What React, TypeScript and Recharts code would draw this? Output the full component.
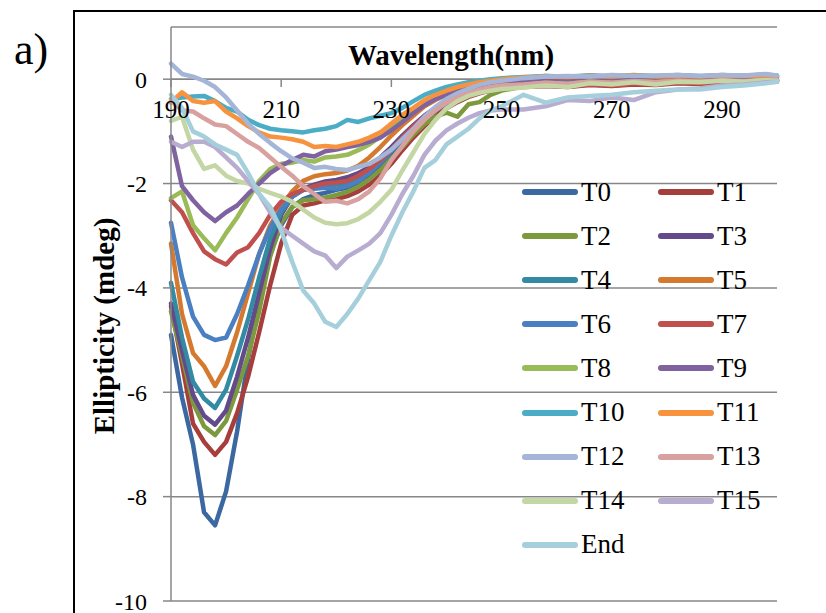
import { LineChart, Line, XAxis, YAxis, CartesianGrid, ReferenceLine, Legend, Customized } from "recharts";

const serif = "'Liberation Serif', 'Times New Roman', serif";
const axisGray = "#878787";

// wavelength (nm) — 2 nm steps through the band, coarser in the flat tail
const wavelength = [
  190, 192, 194, 196, 198, 200, 202, 204, 206, 208, 210, 212, 214, 216, 218, 220, 222, 224, 226, 228, 230,
  232, 234, 236, 238, 240, 242, 244, 246, 248, 250, 254, 258, 262, 266, 270, 274, 278, 282, 286, 290, 294, 298, 300,
];

// ellipticity (mdeg) per time point
const t0 = [-4.9, -6.1, -7.0, -8.3, -8.55, -7.9, -6.75, -5.35, -4.3, -3.35, -2.8, -2.45, -2.3, -2.22, -2.18, -2.12, -2.08, -1.98, -1.86, -1.7, -1.47, -1.22, -1.0, -0.79, -0.62, -0.48, -0.37, -0.28, -0.21, -0.16, -0.12, -0.1, -0.06, -0.08, -0.04, -0.06, -0.03, -0.05, -0.02, -0.04, -0.01, -0.03, 0.0, -0.02];
const t1 = [-4.35, -5.45, -6.6, -6.95, -7.2, -6.95, -6.4, -5.7, -4.85, -3.95, -3.15, -2.6, -2.42, -2.38, -2.32, -2.3, -2.24, -2.15, -2.02, -1.84, -1.62, -1.36, -1.12, -0.9, -0.72, -0.56, -0.44, -0.34, -0.27, -0.22, -0.18, -0.15, -0.13, -0.15, -0.11, -0.13, -0.1, -0.11, -0.08, -0.09, -0.06, -0.07, -0.05, -0.04];
const t2 = [-4.45, -5.3, -6.2, -6.65, -6.82, -6.55, -5.95, -5.3, -4.45, -3.4, -2.75, -2.45, -2.32, -2.3, -2.27, -2.22, -2.16, -2.06, -1.92, -1.74, -1.52, -1.3, -1.06, -0.86, -0.72, -0.64, -0.72, -0.48, -0.44, -0.3, -0.22, -0.14, -0.1, -0.12, -0.07, -0.09, -0.05, -0.07, -0.04, -0.06, -0.03, -0.04, -0.02, -0.03];
const t3 = [-4.3, -5.2, -6.05, -6.45, -6.62, -6.35, -5.7, -4.95, -4.1, -3.25, -2.6, -2.25, -2.1, -2.02, -1.96, -1.93, -1.88, -1.8, -1.68, -1.5, -1.3, -1.08, -0.88, -0.7, -0.55, -0.42, -0.32, -0.24, -0.17, -0.12, -0.08, -0.04, 0.0, -0.02, 0.02, 0.0, 0.03, 0.01, 0.03, 0.02, 0.04, 0.02, 0.04, 0.03];
const t4 = [-3.9, -4.95, -5.8, -6.12, -6.3, -5.95, -5.3, -4.6, -3.8, -3.05, -2.55, -2.25, -2.12, -2.08, -2.05, -2.02, -1.98, -1.9, -1.76, -1.58, -1.36, -1.12, -0.92, -0.73, -0.58, -0.45, -0.35, -0.27, -0.2, -0.15, -0.11, -0.08, -0.1, -0.06, -0.08, -0.05, -0.07, -0.04, -0.06, -0.03, -0.05, -0.02, -0.03, -0.02];
const t5 = [-3.15, -4.5, -5.25, -5.5, -5.88, -5.5, -4.85, -4.1, -3.35, -2.8, -2.45, -2.15, -1.95, -1.86, -1.82, -1.8, -1.75, -1.66, -1.5, -1.3, -1.08, -0.88, -0.7, -0.52, -0.4, -0.3, -0.2, -0.12, -0.06, -0.02, 0.0, 0.02, 0.06, 0.04, 0.07, 0.05, 0.08, 0.05, 0.07, 0.05, 0.08, 0.06, 0.09, 0.06];
const t6 = [-2.75, -3.8, -4.55, -4.9, -5.0, -4.95, -4.5, -3.95, -3.35, -2.85, -2.5, -2.25, -2.12, -2.1, -2.08, -2.1, -2.05, -1.95, -1.8, -1.6, -1.38, -1.15, -0.93, -0.74, -0.58, -0.45, -0.34, -0.26, -0.2, -0.14, -0.1, -0.07, -0.05, -0.07, -0.03, -0.05, -0.02, -0.04, -0.01, -0.03, 0.0, -0.02, 0.01, -0.01];
const t7 = [-2.32, -2.55, -2.95, -3.3, -3.45, -3.55, -3.32, -3.22, -2.95, -2.6, -2.35, -2.2, -2.12, -2.05, -2.0, -1.98, -1.95, -1.85, -1.72, -1.55, -1.35, -1.12, -0.9, -0.72, -0.56, -0.44, -0.34, -0.27, -0.22, -0.18, -0.16, -0.14, -0.12, -0.14, -0.1, -0.12, -0.09, -0.1, -0.07, -0.08, -0.06, -0.06, -0.04, -0.05];
const t8 = [-2.28, -2.15, -2.8, -3.05, -3.28, -2.95, -2.65, -2.3, -1.95, -1.72, -1.62, -1.6, -1.55, -1.58, -1.5, -1.48, -1.45, -1.36, -1.25, -1.1, -0.92, -0.76, -0.6, -0.48, -0.38, -0.3, -0.24, -0.2, -0.16, -0.12, -0.1, -0.07, -0.05, -0.07, -0.04, -0.06, -0.03, -0.05, -0.02, -0.04, -0.02, -0.03, -0.01, -0.02];
const t9 = [-1.1, -2.05, -2.32, -2.55, -2.72, -2.55, -2.42, -2.2, -2.0, -1.8, -1.66, -1.55, -1.45, -1.48, -1.38, -1.35, -1.3, -1.26, -1.2, -1.12, -0.98, -0.82, -0.65, -0.5, -0.38, -0.3, -0.22, -0.16, -0.12, -0.08, -0.05, -0.02, 0.02, 0.0, 0.04, 0.02, 0.05, 0.03, 0.05, 0.04, 0.06, 0.04, 0.06, 0.05];
const t10 = [-0.38, -0.35, -0.33, -0.32, -0.42, -0.55, -0.62, -0.78, -0.88, -0.95, -0.98, -1.0, -1.02, -0.98, -0.95, -0.9, -0.78, -0.82, -0.75, -0.7, -0.65, -0.55, -0.42, -0.3, -0.22, -0.15, -0.1, -0.06, -0.03, 0.0, 0.02, 0.04, 0.06, 0.05, 0.07, 0.05, 0.07, 0.06, 0.08, 0.06, 0.07, 0.06, 0.08, 0.07];
const t11 = [-0.45, -0.25, -0.42, -0.45, -0.42, -0.62, -0.75, -0.9, -1.02, -1.1, -1.12, -1.15, -1.2, -1.3, -1.28, -1.3, -1.25, -1.2, -1.12, -1.02, -0.85, -0.68, -0.55, -0.4, -0.3, -0.22, -0.15, -0.1, -0.06, -0.03, 0.0, 0.03, 0.05, 0.04, 0.06, 0.05, 0.07, 0.05, 0.06, 0.05, 0.07, 0.06, 0.07, 0.06];
const t12 = [0.3, 0.1, 0.05, -0.03, -0.15, -0.35, -0.6, -0.85, -1.05, -1.22, -1.38, -1.52, -1.6, -1.7, -1.68, -1.72, -1.74, -1.68, -1.62, -1.5, -1.35, -1.15, -0.95, -0.72, -0.53, -0.38, -0.27, -0.18, -0.11, -0.06, -0.03, 0.02, 0.05, 0.06, 0.05, 0.08, 0.06, 0.07, 0.08, 0.06, 0.08, 0.07, 0.1, 0.07];
const t13 = [-0.4, -0.6, -0.62, -0.75, -0.87, -0.9, -1.05, -1.2, -1.32, -1.5, -1.68, -1.85, -2.05, -2.2, -2.35, -2.33, -2.38, -2.3, -2.15, -1.9, -1.55, -1.28, -1.0, -0.78, -0.6, -0.45, -0.35, -0.27, -0.2, -0.15, -0.12, -0.1, -0.07, -0.09, -0.05, -0.07, -0.04, -0.06, -0.03, -0.05, -0.02, -0.04, -0.01, -0.02];
const t14 = [-0.8, -0.72, -1.35, -1.72, -1.65, -1.85, -1.95, -2.0, -2.1, -2.18, -2.25, -2.35, -2.5, -2.65, -2.75, -2.78, -2.76, -2.68, -2.55, -2.35, -2.12, -1.75, -1.4, -1.05, -0.78, -0.56, -0.42, -0.32, -0.26, -0.22, -0.19, -0.16, -0.12, -0.15, -0.08, -0.1, -0.06, -0.1, -0.05, -0.06, -0.03, -0.05, -0.02, -0.03];
const t15 = [-1.2, -1.3, -1.2, -1.2, -1.3, -1.5, -1.7, -1.95, -2.2, -2.55, -2.85, -3.0, -3.15, -3.3, -3.38, -3.62, -3.4, -3.28, -3.15, -2.95, -2.6, -2.2, -1.85, -1.45, -1.18, -0.98, -0.85, -0.74, -0.65, -0.6, -0.58, -0.58, -0.52, -0.4, -0.42, -0.35, -0.4, -0.25, -0.2, -0.18, -0.12, -0.1, -0.06, -0.05];
const tEnd = [-0.3, -0.55, -1.0, -1.1, -1.25, -1.35, -1.45, -1.8, -2.2, -2.45, -2.9, -3.5, -4.05, -4.3, -4.65, -4.75, -4.5, -4.2, -3.85, -3.5, -3.0, -2.55, -2.15, -1.7, -1.55, -1.25, -1.1, -0.95, -0.75, -0.6, -0.52, -0.3, -0.45, -0.35, -0.32, -0.3, -0.25, -0.22, -0.2, -0.2, -0.15, -0.12, -0.08, -0.05];

const seriesNames = ["T0", "T1", "T2", "T3", "T4", "T5", "T6", "T7", "T8", "T9", "T10", "T11", "T12", "T13", "T14", "T15", "End"];
const seriesValues = [t0, t1, t2, t3, t4, t5, t6, t7, t8, t9, t10, t11, t12, t13, t14, t15, tEnd];
const seriesColors = [
  "#3b68a1", "#a63e3b", "#7c9a3d", "#634a8a", "#328aa3", "#d5792e",
  "#4a7fc1", "#c0504d", "#9bbb59", "#7f63a1", "#4aacc5", "#f7933f",
  "#a4b5d7", "#d8a09f", "#c3d6a3", "#b8acd0", "#a6cfdc",
];

const xTicks = [190, 210, 230, 250, 270, 290];
const yTicks = [-10, -8, -6, -4, -2, 0];

const data = wavelength.map((wl, i) => {
  const row: Record<string, number> = { wl };
  seriesNames.forEach((name, k) => {
    row[name] = seriesValues[k][i];
  });
  return row;
});

function LegendGrid(props: any) {
  const items = [...(props.payload ?? [])].sort(
    (a: any, b: any) => seriesNames.indexOf(a.value) - seriesNames.indexOf(b.value)
  );
  return (
    <div style={{ display: "grid", gridTemplateColumns: "136px 136px", gridAutoRows: "44.1px" }}>
      {items.map((it: any) => (
        <div key={it.value} style={{ display: "flex", alignItems: "center" }}>
          <svg width={56} height={8} style={{ display: "block" }}>
            <line x1={3} y1={4} x2={53} y2={4} stroke={it.color} strokeWidth={6} strokeLinecap="round" />
          </svg>
          <span style={{ marginLeft: 3, fontFamily: serif, fontSize: 27, lineHeight: 1, color: "#000" }}>{it.value}</span>
        </div>
      ))}
    </div>
  );
}

function Titles() {
  return (
    <g>
      <text x={451} y={65} textAnchor="middle" fontFamily={serif} fontSize={29} fontWeight="bold" fill="#000">
        Wavelength(nm)
      </text>
      <text
        transform="translate(104,326) rotate(-90)"
        textAnchor="middle"
        dominantBaseline="central"
        fontFamily={serif}
        fontSize={29}
        fontWeight="bold"
        fill="#000"
      >
        Ellipticity (mdeg)
      </text>
    </g>
  );
}

export default function App() {
  return (
    <div style={{ position: "absolute", left: 0, top: 0, width: 826, height: 613, background: "#fff", overflow: "hidden" }}>
      <div
        style={{
          position: "absolute",
          left: 73,
          top: 10,
          width: 900,
          height: 900,
          borderTop: "2px solid #000",
          borderLeft: "2px solid #000",
        }}
      />
      <div style={{ position: "absolute", left: 14, top: 28, fontFamily: serif, fontSize: 44, lineHeight: 1, color: "#000" }}>
        a)
      </div>
      <div style={{ position: "absolute", left: 0, top: 0 }}>
        <LineChart width={826} height={613} data={data} margin={{ top: 27, right: 49, bottom: 12, left: 37 }}>
          <CartesianGrid vertical={false} stroke={axisGray} strokeWidth={1.5} />
          <XAxis dataKey="wl" type="number" domain={[190, 300]} hide />
          <YAxis
            type="number"
            domain={[-10, 1]}
            ticks={yTicks}
            interval={0}
            allowDataOverflow
            width={134}
            tickSize={8}
            tickMargin={16}
            stroke={axisGray}
            strokeWidth={1.5}
            tick={{ fill: "#000", fontSize: 24, fontFamily: serif }}
          />
          <ReferenceLine y={0} stroke={axisGray} strokeWidth={1.5} />
          {xTicks.map((t) => (
            <ReferenceLine
              key={t}
              segment={[{ x: t, y: 0 }, { x: t, y: -0.15 }]}
              stroke={axisGray}
              strokeWidth={1.5}
              label={{ value: String(t), position: "bottom", offset: 13, fill: "#000", fontSize: 25, fontFamily: serif }}
            />
          ))}
          {seriesNames.map((name, k) => (
            <Line
              key={name}
              type="linear"
              dataKey={name}
              name={name}
              stroke={seriesColors[k]}
              strokeWidth={4.5}
              strokeLinejoin="round"
              strokeLinecap="round"
              dot={false}
              activeDot={false}
              isAnimationActive={false}
            />
          ))}
          <Legend
            layout="vertical"
            align="center"
            verticalAlign="middle"
            wrapperStyle={{ left: 522, top: 170, width: 290, height: 400 }}
            content={LegendGrid}
          />
          <Customized component={Titles} />
        </LineChart>
      </div>
    </div>
  );
}
